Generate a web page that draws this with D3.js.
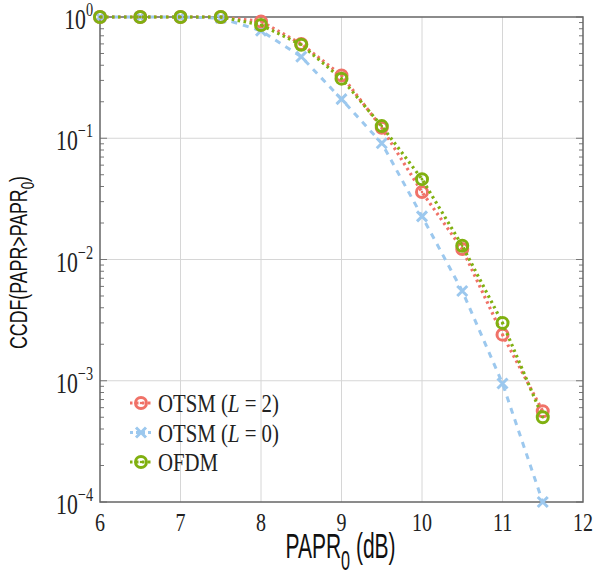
<!DOCTYPE html>
<html>
<head>
<meta charset="utf-8">
<script src="https://cdn.jsdelivr.net/npm/d3@7"></script>
<style>
  body { margin: 0; background: #fff; }
  svg { display: block; }
  .tick-lbl { font-family: "Liberation Serif", "DejaVu Serif", serif; fill: #222; }
  .ax-lbl { font-family: "Liberation Sans", Arial, sans-serif; fill: #111; }
</style>
</head>
<body>
<div id="graph"></div>
<script>
// Data
const papr = [6, 6.5, 7, 7.5, 8, 8.5, 9, 9.5, 10, 10.5, 11, 11.5];
const otsmL2 = [1, 1, 1, 1, 0.92, 0.6, 0.33, 0.122, 0.036, 0.0122, 0.0024, 0.00056];
const otsmL0 = [1, 1, 1, 0.98, 0.77, 0.47, 0.21, 0.091, 0.0227, 0.0055, 0.00095, 0.0001];
const ofdm = [1, 1, 1, 1, 0.86, 0.59, 0.31, 0.126, 0.046, 0.013, 0.003, 0.0005];
const xTicks = [6, 7, 8, 9, 10, 11, 12];
const yExps = [0, -1, -2, -3, -4];
const legendLabels = ["OTSM (L = 2)", "OTSM (L = 0)", "OFDM"];

// Set the dimensions and margins
const fWidth = 595, fHeight = 575;
const mt = 17, mr = 12, mb = 73, ml = 100;
const width = fWidth - ml - mr, height = fHeight - mt - mb;

let x = d3.scaleLinear().domain([6, 12]).range([0, width]);
let y = d3.scaleLog().domain([1e-4, 1]).range([height, 0]);

let svg = d3.select("#graph").append("svg")
    .attr("width", fWidth)
    .attr("height", fHeight)
    .append("g")
    .attr("transform", `translate(${ml}, ${mt})`);

// Grid lines
svg.append("g")
    .selectAll("line")
    .data(xTicks.slice(1, -1))
    .join("line")
    .attr("x1", d => x(d)).attr("x2", d => x(d))
    .attr("y1", 0).attr("y2", height)
    .attr("stroke", "#d6d6d6").attr("stroke-width", 1);

svg.append("g")
    .selectAll("line")
    .data(yExps.slice(1, -1))
    .join("line")
    .attr("x1", 0).attr("x2", width)
    .attr("y1", d => y(Math.pow(10, d))).attr("y2", d => y(Math.pow(10, d)))
    .attr("stroke", "#d6d6d6").attr("stroke-width", 1);

// Minor ticks on left and right (inside)
let minor = [];
for (let e = -4; e < 0; e++) {
  for (let m = 2; m <= 9; m++) minor.push(m * Math.pow(10, e));
}
[0, width].forEach((xp, i) => {
  const dir = i === 0 ? 1 : -1;
  svg.append("g")
      .selectAll("line")
      .data(minor)
      .join("line")
      .attr("x1", xp).attr("x2", xp + dir * 4)
      .attr("y1", d => y(d)).attr("y2", d => y(d))
      .attr("stroke", "#777").attr("stroke-width", 1);
  svg.append("g")
      .selectAll("line")
      .data(yExps)
      .join("line")
      .attr("x1", xp).attr("x2", xp + dir * 7)
      .attr("y1", d => y(Math.pow(10, d))).attr("y2", d => y(Math.pow(10, d)))
      .attr("stroke", "#777").attr("stroke-width", 1);
});

// Frame
svg.append("rect")
    .attr("x", 0).attr("y", 0)
    .attr("width", width).attr("height", height)
    .attr("fill", "none")
    .attr("stroke", "#666").attr("stroke-width", 1.5);

// X tick labels
svg.append("g")
    .selectAll("text")
    .data(xTicks)
    .join("text")
    .attr("class", "tick-lbl")
    .attr("text-anchor", "middle")
    .attr("font-size", 25)
    .attr("transform", d => `translate(${x(d)}, ${height + 29}) scale(0.8, 1)`)
    .text(d => d);

// Y tick labels: 10^e
let yl = svg.append("g")
    .selectAll("g")
    .data(yExps)
    .join("g")
    .attr("transform", d => `translate(-7, ${y(Math.pow(10, d)) + 12}) scale(0.75, 1)`);
let ytxt = yl.append("text")
    .attr("class", "tick-lbl")
    .attr("text-anchor", "end")
    .attr("font-size", 29);
ytxt.append("tspan").text("10");
ytxt.append("tspan")
    .attr("font-size", 19)
    .attr("dy", -13)
    .text(d => d === 0 ? "0" : "\u2212" + Math.abs(d));

// Axis labels
let xl = svg.append("text")
    .attr("class", "ax-lbl")
    .attr("text-anchor", "middle")
    .attr("font-size", 35)
    .attr("transform", `translate(${width / 2 - 1}, ${height + 56}) scale(0.6, 1)`);
xl.append("tspan").text("PAPR");
xl.append("tspan").attr("font-size", 27).attr("dy", 12).text("0");
xl.append("tspan").attr("dy", -12).text(" (dB)");

let ylab = svg.append("text")
    .attr("class", "ax-lbl")
    .attr("text-anchor", "middle")
    .attr("font-size", 24)
    .attr("transform", `translate(${-73}, ${height / 2 + 3}) rotate(-90) scale(0.74, 1)`);
ylab.append("tspan").text("CCDF(PAPR>PAPR");
ylab.append("tspan").attr("font-size", 18).attr("dy", 7).text("0");
ylab.append("tspan").attr("dy", -7).text(")");

// Series
const series = [
  { name: legendLabels[1], values: otsmL0, color: "#9cc8ee", dash: "6,6", width: 3, marker: "x" },
  { name: legendLabels[0], values: otsmL2, color: "#f07268", dash: "2.5,3.5", width: 3.2, marker: "o" },
  { name: legendLabels[2], values: ofdm, color: "#80b010", dash: "2.5,3.5", width: 3.2, marker: "o" }
];

let line = d3.line()
    .x(d => x(d[0]))
    .y(d => y(d[1]));

function drawMarker(g, type, color) {
  if (type === "o") {
    g.append("circle").attr("r", 5.5)
        .attr("fill", "none").attr("stroke", color).attr("stroke-width", 3);
    g.append("circle").attr("r", 1.3).attr("fill", color);
  } else {
    g.append("path").attr("d", "M-5,-5L5,5M-5,5L5,-5")
        .attr("stroke", color).attr("stroke-width", 3).attr("fill", "none");
  }
}

series.forEach(s => {
  const pts = papr.map((p, i) => [p, s.values[i]]);
  svg.append("path")
      .datum(pts)
      .attr("fill", "none")
      .attr("stroke", s.color)
      .attr("stroke-width", s.width)
      .attr("stroke-dasharray", s.dash)
      .attr("d", line);
  svg.append("g")
      .selectAll("g")
      .data(pts)
      .join("g")
      .attr("transform", d => `translate(${x(d[0])}, ${y(d[1])})`)
      .each(function () { drawMarker(d3.select(this), s.marker, s.color); });
});

// Legend
const legendOrder = [series[1], series[0], series[2]];
let leg = svg.append("g").attr("transform", "translate(30, 386)");
legendOrder.forEach((s, i) => {
  let row = leg.append("g").attr("transform", `translate(0, ${i * 29.5})`);
  row.append("line")
      .attr("x1", 0).attr("x2", 22)
      .attr("stroke", s.color).attr("stroke-width", s.width)
      .attr("stroke-dasharray", s.marker === "x" ? "3,3" : "2.5,3.5");
  drawMarker(row.append("g").attr("transform", "translate(11, 0)"), s.marker, s.color);
  let t = row.append("text")
      .attr("class", "tick-lbl")
      .attr("font-size", 26)
      .attr("transform", "translate(28, 9) scale(0.8, 1)");
  const m = s.name.match(/^(.*)\((L) = (\d)\)$/);
  if (m) {
    t.append("tspan").text(m[1] + "(");
    t.append("tspan").attr("font-style", "italic").text(m[2]);
    t.append("tspan").text(" = " + m[3] + ")");
  } else {
    t.text(s.name);
  }
});
</script>
</body>
</html>
